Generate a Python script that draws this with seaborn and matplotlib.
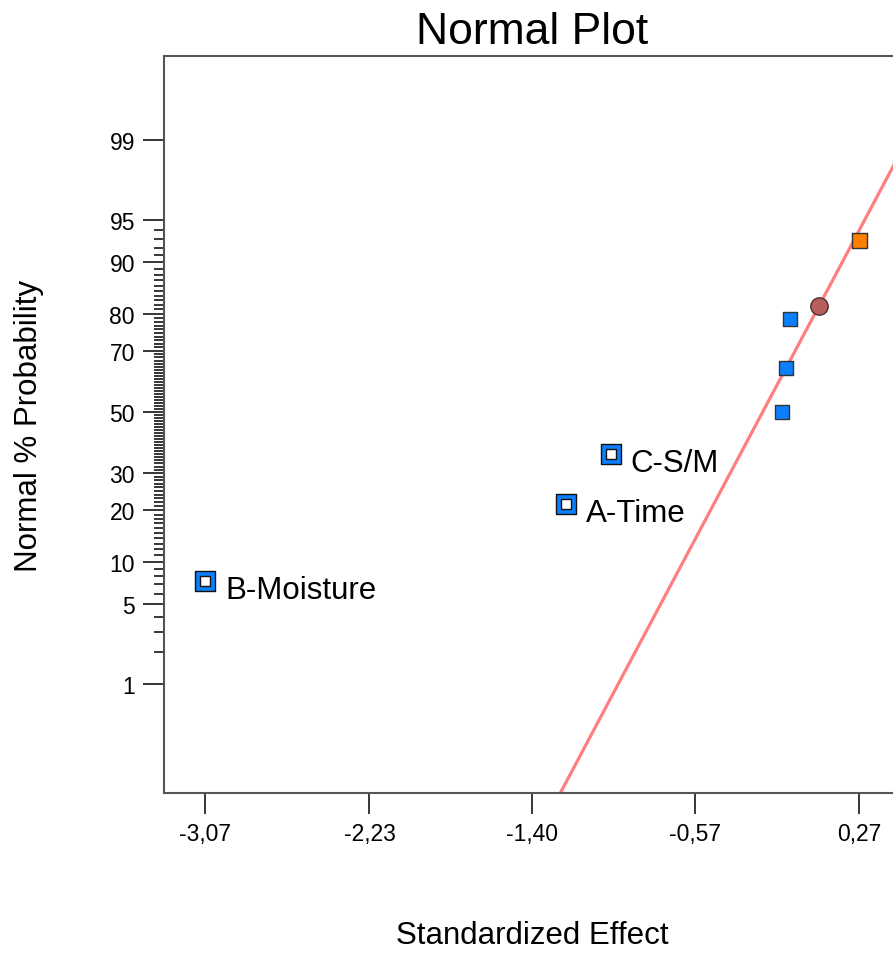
import numpy as np
import seaborn as sns
import matplotlib.pyplot as plt
from statistics import NormalDist

# effects (standardized) and their normal % probability
effect_names = ['B-Moisture', 'A-Time', 'C-S/M', '', '', '', '', '']
effects = [-3.07, -1.228, -0.999, -0.123, -0.103, -0.083, 0.065, 0.27]
probs = [7.4, 21.6, 36.0, 50.0, 64.7, 78.7, 81.8, 92.9]
kinds = ['label', 'label', 'label', 'plain', 'plain', 'plain', 'error', 'pos']

# fitted normal line
line_mu = -0.222
line_sigma = 0.317

x_ticks = [-3.07, -2.23, -1.40, -0.57, 0.27]
x_ticklabels = ['-3,07', '-2,23', '-1,40', '-0,57', '0,27']
y_ticks = [1, 5, 10, 20, 30, 50, 70, 80, 90, 95, 99]

nd = NormalDist()


def to_z(p):
    p = np.clip(np.asarray(p, dtype=float) / 100.0, 1e-12, 1 - 1e-12)
    return np.vectorize(nd.inv_cdf, otypes=[float])(p)


def from_z(z):
    return 100.0 * np.vectorize(nd.cdf, otypes=[float])(np.asarray(z, dtype=float))


sns.set_style('white')
plt.rcParams['font.family'] = ['Liberation Sans', 'DejaVu Sans']
plt.rcParams['text.color'] = 'black'
plt.rcParams['axes.labelcolor'] = 'black'
plt.rcParams['xtick.color'] = 'black'
plt.rcParams['ytick.color'] = 'black'

fig = plt.figure(figsize=(8.93, 9.54), dpi=100)
ax = fig.add_axes([0.1837, 0.1677, 0.8241, 0.7726])
ax.set_yscale('function', functions=(to_z, from_z))

# normal line
xl = np.linspace(line_mu - 3.6 * line_sigma, 0.5, 60)
yl = from_z((xl - line_mu) / line_sigma)
sns.lineplot(x=xl, y=yl, ax=ax, color='#FF7F7F', linewidth=2.3, sort=False)

ex = np.array(effects)
py = np.array(probs)
kd = np.array(kinds)

m = kd == 'plain'
sns.scatterplot(x=ex[m], y=py[m], ax=ax, marker='s', s=10.4 ** 2,
                color='#0A80FF', edgecolor='#333333', linewidth=1, zorder=3)
m = kd == 'pos'
sns.scatterplot(x=ex[m], y=py[m], ax=ax, marker='s', s=10.8 ** 2,
                color='#FF8000', edgecolor='#333333', linewidth=1, zorder=3)
m = kd == 'error'
sns.scatterplot(x=ex[m], y=py[m], ax=ax, marker='o', s=12.5 ** 2,
                color='#B85C5C', edgecolor='#4A3030', linewidth=1, zorder=3)
m = kd == 'label'
sns.scatterplot(x=ex[m], y=py[m], ax=ax, marker='s', s=14.2 ** 2,
                color='#0A80FF', edgecolor='#111111', linewidth=1, zorder=3)
sns.scatterplot(x=ex[m], y=py[m], ax=ax, marker='s', s=7.2 ** 2,
                color='white', edgecolor='#111111', linewidth=1, zorder=4)

for name, xv, yv in zip(effect_names, effects, probs):
    if name:
        ax.annotate(name, (xv, yv), xytext=(14.5, -6.5), textcoords='offset points',
                    ha='left', va='center', fontsize=22.5, color='black')

ax.set_xlim(-3.279, 0.479)
ax.set_ylim(0.0557, 99.884)

ax.set_xticks(x_ticks)
ax.set_xticklabels(x_ticklabels)
ax.set_yticks(y_ticks)
ax.set_yticklabels([str(v) for v in y_ticks])
ax.set_yticks([v for v in range(1, 96) if v not in y_ticks], minor=True)
ax.tick_params(axis='both', which='major', direction='out', length=15, width=1.1,
               color='black', labelsize=16.5, labelcolor='black', pad=6)
ax.tick_params(axis='y', which='minor', direction='out', length=7, width=1.1,
               color='black', left=True)
ax.tick_params(axis='x', which='minor', bottom=False)
ax.tick_params(axis='both', which='major', left=True, bottom=True)

for sp in ax.spines.values():
    sp.set_color('#555555')
    sp.set_linewidth(1.5)

ax.set_title('Normal Plot', fontsize=32, pad=9, color='black')
ax.set_xlabel('Standardized Effect', fontsize=22.5)
ax.set_ylabel('Normal % Probability', fontsize=22.5)
ax.xaxis.set_label_coords(0.5, -0.172)
ax.yaxis.set_label_coords(-0.163, 0.5)

plt.savefig('out.png', dpi=100)
